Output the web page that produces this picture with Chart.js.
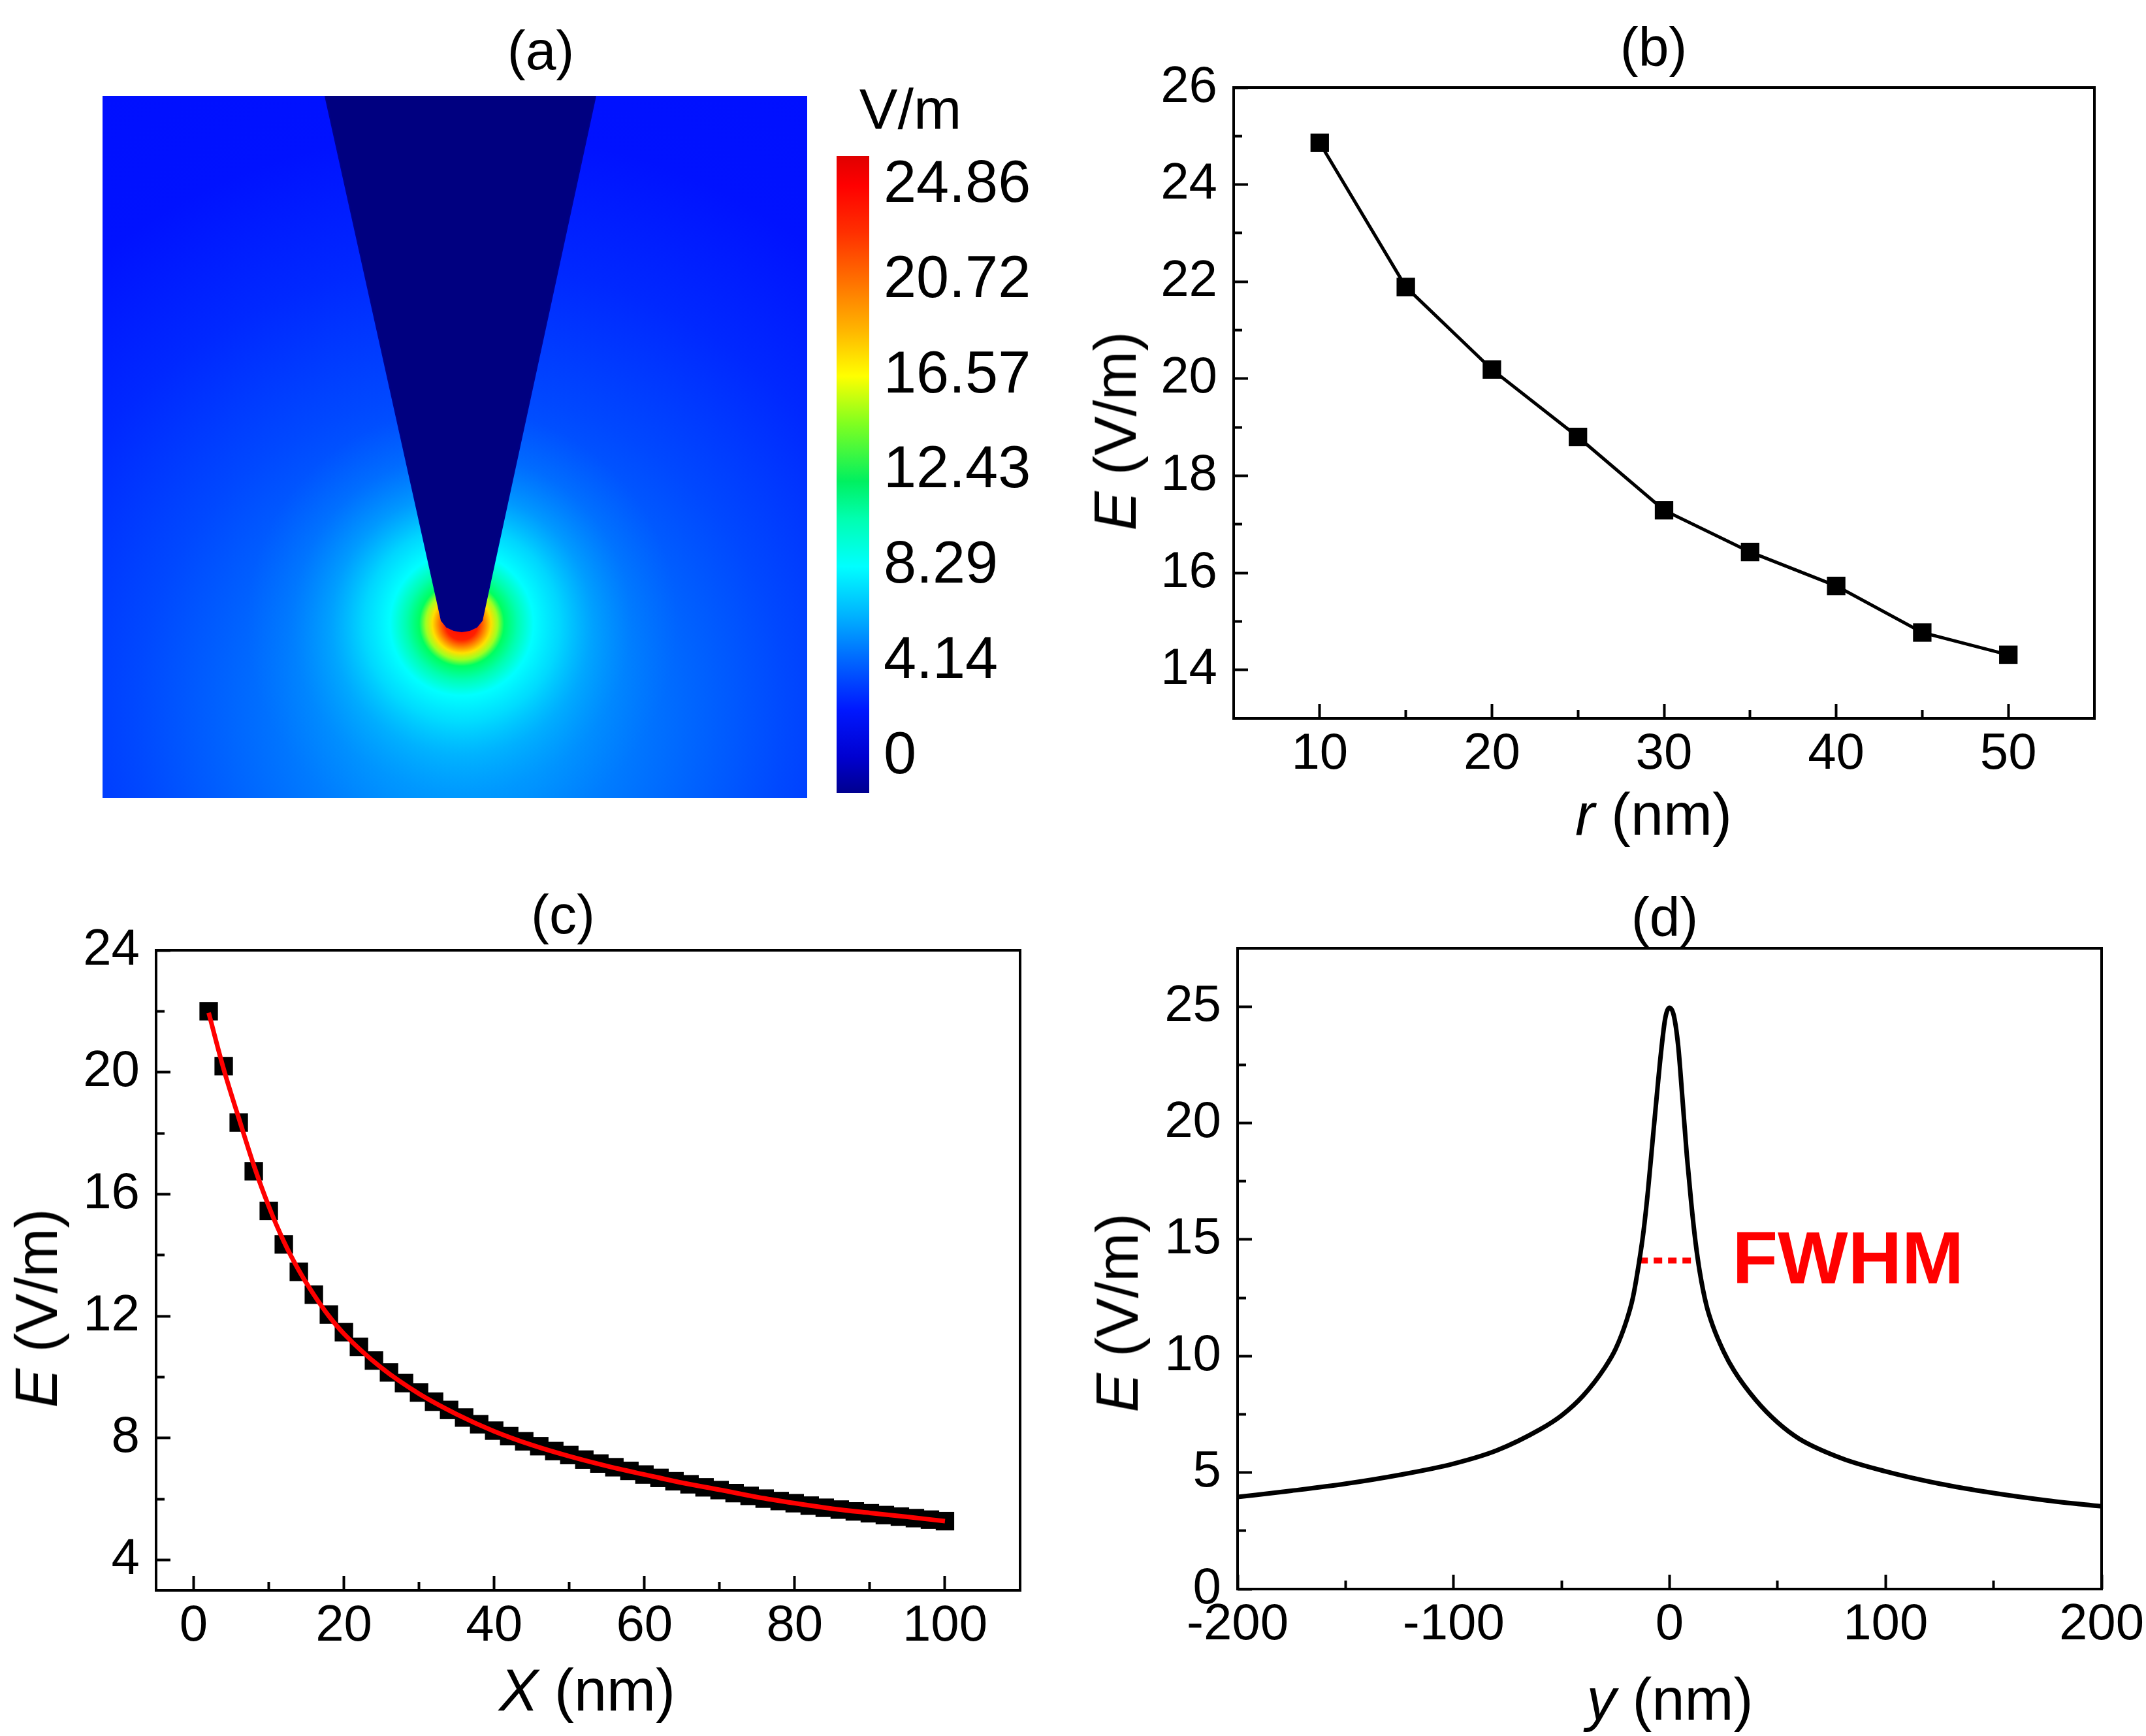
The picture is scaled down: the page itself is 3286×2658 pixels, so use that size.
<!DOCTYPE html>
<html>
<head>
<meta charset="utf-8">
<script src="https://cdn.jsdelivr.net/npm/chart.js@4.4.1/dist/chart.umd.min.js"></script>
<style>
  html, body { margin: 0; padding: 0; background: #fff; }
  body { width: 3286px; height: 2658px; position: relative; overflow: hidden;
         font-family: "Liberation Sans", Arial, sans-serif; color: #000; }
  canvas { position: absolute; }
  .lbl { position: absolute; white-space: nowrap; line-height: 1; transform: translate(-50%, -50%); }
  .vt { transform: translate(-50%, -50%) rotate(-90deg); }
</style>
</head>
<body>
<canvas id="fieldMap" width="1660" height="1329" style="left:0;top:0;width:1660px;height:1329px"></canvas>
<canvas id="colorBar" width="420" height="1100" style="left:1250px;top:200px;width:420px;height:1100px"></canvas>
<canvas id="radiusChart" width="1586" height="1329" style="left:1700px;top:0;width:1586px;height:1329px"></canvas>
<canvas id="distChart" width="1643" height="1329" style="left:0;top:1329px;width:1643px;height:1329px"></canvas>
<canvas id="lateralChart" width="1643" height="1329" style="left:1643px;top:1329px;width:1643px;height:1329px"></canvas>

<div class="lbl" style="left:828px;top:77px;font-size:84px">(a)</div>
<div class="lbl" style="left:1394px;top:167px;font-size:88px">V/m</div>
<div class="lbl" style="left:2532px;top:72px;font-size:84px">(b)</div>
<div class="lbl" style="left:862px;top:1400px;font-size:84px">(c)</div>
<div class="lbl" style="left:2549px;top:1404px;font-size:84px">(d)</div>

<div class="lbl vt" style="left:1708px;top:660px;font-size:90px"><i>E</i> (V/m)</div>
<div class="lbl" style="left:2532px;top:1247px;font-size:90px"><i>r</i> (nm)</div>
<div class="lbl vt" style="left:56px;top:2003px;font-size:90px"><i>E</i> (V/m)</div>
<div class="lbl" style="left:899px;top:2588px;font-size:90px"><i>X</i> (nm)</div>
<div class="lbl vt" style="left:1711px;top:2010px;font-size:90px"><i>E</i> (V/m)</div>
<div class="lbl" style="left:2557px;top:2602px;font-size:90px"><i>y</i> (nm)</div>

<script>
// ---- (a) field map: tip outline and hot spot (map coords 0..100) ----
const coneX = [31.6, 48.1, 48.84, 49.86, 50.97, 52.09, 53.1, 53.85, 69.97];
const coneY = [100, 25.3, 24.37, 23.91, 23.72, 23.91, 24.37, 25.3, 100];
const hotSpot = { x: 50.97, y: 24.84 };
const spread = { x: 50.97, y: 11.35 };

// colour bar
const cbRange = [-1.56, 26.14];
const cbTicks = [0, 4.14, 8.29, 12.43, 16.57, 20.72, 24.86];
const cbTickLabels = ['0', '4.14', '8.29', '12.43', '16.57', '20.72', '24.86'];
const jetStops = [
  [-1.56, '#00008f'], [0, '#0000d0'], [2.07, '#0018ff'], [4.14, '#0064ff'],
  [6.2, '#00b4ff'], [8.29, '#00ffff'], [10.36, '#00ffb0'], [12.0, '#00f060'],
  [14.5, '#80ff20'], [16.57, '#ffff00'], [18.6, '#ffb400'], [20.72, '#ff7000'],
  [22.8, '#ff3000'], [24.86, '#ff0000'], [26.14, '#e00000']
];

// ---- (b) field vs tip radius ----
const bRadius = [10, 15, 20, 25, 30, 35, 40, 45, 50];
const bField = [24.86, 21.89, 20.19, 18.8, 17.29, 16.43, 15.73, 14.77, 14.31];
const bXMajor = [10, 20, 30, 40, 50], bXMinor = [15, 25, 35, 45];
const bYMajor = [14, 16, 18, 20, 22, 24, 26], bYMinor = [15, 17, 19, 21, 23, 25];

// ---- (c) field vs distance X, with fitted curve ----
const cDist = [2, 4, 6, 8, 10, 12, 14, 16, 18, 20, 22, 24, 26, 28, 30, 32, 34, 36, 38, 40,
  42, 44, 46, 48, 50, 52, 54, 56, 58, 60, 62, 64, 66, 68, 70, 72, 74, 76, 78, 80,
  82, 84, 86, 88, 90, 92, 94, 96, 98, 100];
const cField = [22.0, 20.2, 18.35, 16.75, 15.45, 14.35, 13.45, 12.7, 12.05, 11.47, 10.99, 10.54, 10.15, 9.8, 9.49, 9.19, 8.92, 8.67, 8.45, 8.24,
  8.06, 7.89, 7.73, 7.57, 7.44, 7.29, 7.16, 7.04, 6.92, 6.8, 6.69, 6.58, 6.48, 6.38, 6.29, 6.19, 6.1, 6.01, 5.93, 5.86,
  5.78, 5.71, 5.65, 5.59, 5.53, 5.47, 5.42, 5.37, 5.32, 5.27];
const cFitX = [2, 4, 6, 8, 10, 12, 14, 16, 18, 20, 25, 30, 35, 40, 45, 50, 55, 60, 65, 70, 75, 80, 85, 90, 95, 100];
const cFitE = [21.95, 20.1, 18.5, 16.95, 15.6, 14.45, 13.5, 12.7, 12.0, 11.42, 10.3, 9.45, 8.78, 8.22, 7.77, 7.4, 7.08, 6.8, 6.53, 6.3, 6.06, 5.86, 5.68, 5.54, 5.41, 5.27];
const cXMajor = [0, 20, 40, 60, 80, 100], cXMinor = [10, 30, 50, 70, 90];
const cYMajor = [4, 8, 12, 16, 20, 24], cYMinor = [6, 10, 14, 18, 22];

// ---- (d) lateral profile ----
const dPos = [-200, -175, -150, -125, -100, -80, -60, -50, -40, -30, -25, -20, -17, -14, -12, -10, -8, -6, -4, -2, 0,
  2, 4, 6, 8, 10, 12, 14, 17, 20, 25, 30, 40, 50, 60, 80, 100, 125, 150, 175, 200];
const dField = [3.95, 4.22, 4.52, 4.9, 5.38, 5.95, 6.85, 7.45, 8.3, 9.5, 10.3, 11.5, 12.5, 14.1, 15.4, 17.1, 19.1, 21.1, 23.0, 24.5, 24.95,
  24.6, 23.3, 21.0, 18.6, 16.6, 14.9, 13.6, 12.2, 11.3, 10.2, 9.35, 8.1, 7.15, 6.45, 5.6, 5.05, 4.52, 4.12, 3.8, 3.55];
const fwhmX = [-14, 12], fwhmY = [14.1, 14.1];
const fwhmText = 'FWHM', fwhmAt = [29, 14];
const dXMajor = [-200, -100, 0, 100, 200], dXMinor = [-150, -50, 50, 150];
const dYMajor = [0, 5, 10, 15, 20, 25], dYMinor = [2.5, 7.5, 12.5, 17.5, 22.5];

Chart.defaults.font.family = '"Liberation Sans", Arial, sans-serif';
Chart.defaults.color = '#000';

const pts = (xs, ys) => xs.map((x, i) => ({ x: x, y: ys[i] }));

// box round the plot area
const frame = {
  id: 'frame',
  afterDraw(chart) {
    const { ctx, chartArea: a } = chart;
    ctx.save();
    ctx.strokeStyle = '#000';
    ctx.lineWidth = 4;
    ctx.strokeRect(a.left, a.top, a.width, a.height);
    ctx.restore();
  }
};

// inward ticks, minor ones shorter, labels only on majors
function axis(pos, min, max, major, minor, size, pad) {
  const all = major.concat(minor).sort((a, b) => a - b);
  return {
    type: 'linear', position: pos, min: min, max: max,
    afterBuildTicks: s => { s.ticks = all.map(v => ({ value: v })); },
    afterFit: s => {
      if (pos === 'bottom') s.height = size; else s.width = size;
      s.paddingLeft = s.paddingRight = s.paddingTop = s.paddingBottom = 0;
    },
    border: { display: false },
    grid: {
      drawOnChartArea: false, drawTicks: true, tickLength: -22, tickWidth: 4, tickColor: '#000',
      tickBorderDash: c => (c.tick && major.includes(c.tick.value)) ? [] : (pos === 'bottom' ? [13, 100] : [0, 9, 13, 100])
    },
    ticks: {
      autoSkip: false, maxRotation: 0, padding: pad, color: '#000', font: { size: 78 },
      callback: v => major.includes(v) ? String(v) : ''
    }
  };
}

const base = {
  responsive: false, animation: false, events: [], devicePixelRatio: 1,
  plugins: { legend: { display: false }, tooltip: { enabled: false } }
};

// ---- (a) ----
function glow(stops, radius) {
  return c => {
    const ch = c.chart;
    if (!c.parsed || !ch.chartArea) return 'rgba(0,0,0,0)';
    const px = ch.scales.x.getPixelForValue(c.parsed.x);
    const py = ch.scales.y.getPixelForValue(c.parsed.y);
    if (!isFinite(px) || !isFinite(py)) return 'rgba(0,0,0,0)';
    const g = ch.ctx.createRadialGradient(px, py, 0, px, py, radius);
    stops.forEach(s => g.addColorStop(s[0] / radius, s[1]));
    return g;
  };
}
const outerStops = [[0, '#00a8ff'], [150, '#0090ff'], [300, '#0070ff'], [500, '#0048ff'], [700, '#0028ff'], [900, '#0012ff'], [1300, '#000cff']];
const innerStops = [[0, '#ff0000'], [25, '#ff2000'], [35, '#ff8000'], [45, '#ffe000'], [55, '#a0ff20'], [65, '#00ff60'],
  [85, '#00ffb0'], [110, '#00ffff'], [150, 'rgba(0,230,255,0.85)'], [200, 'rgba(0,200,255,0.5)'],
  [260, 'rgba(0,170,255,0.2)'], [330, 'rgba(0,150,255,0)']];

new Chart(document.getElementById('fieldMap'), {
  type: 'scatter',
  data: {
    datasets: [
      { data: [spread], pointRadius: 1300, pointBorderWidth: 0, pointBackgroundColor: glow(outerStops, 1300), clip: 0, order: 2 },
      { data: [hotSpot], pointRadius: 330, pointBorderWidth: 0, pointBackgroundColor: glow(innerStops, 330), clip: 0, order: 1 },
      { data: pts(coneX, coneY), showLine: true, fill: 'end', backgroundColor: '#000080', borderColor: '#00008a',
        borderWidth: 2, pointRadius: 0, clip: 0, order: 0 }
    ]
  },
  options: Object.assign({}, base, {
    layout: { autoPadding: false, padding: { left: 157, top: 147, right: 1660 - 1236, bottom: 1329 - 1222 } },
    scales: { x: { display: false, min: 0, max: 100 }, y: { display: false, min: 0, max: 100 } }
  })
});

new Chart(document.getElementById('colorBar'), {
  type: 'bar',
  data: {
    labels: ['E'],
    datasets: [{
      data: [[cbRange[0], cbRange[1]]], borderWidth: 0, barPercentage: 1, categoryPercentage: 1,
      backgroundColor: c => {
        const ch = c.chart, ys = ch.scales.y;
        if (!ys || !ch.chartArea) return '#0000ff';
        const y0 = ys.getPixelForValue(cbRange[0]), y1 = ys.getPixelForValue(cbRange[1]);
        if (!isFinite(y0) || !isFinite(y1)) return '#0000ff';
        const g = ch.ctx.createLinearGradient(0, y0, 0, y1);
        jetStops.forEach(s => g.addColorStop((s[0] - cbRange[0]) / (cbRange[1] - cbRange[0]), s[1]));
        return g;
      }
    }]
  },
  options: Object.assign({}, base, {
    layout: { autoPadding: false, padding: { left: 31, top: 39, right: 0, bottom: 86 } },
    scales: {
      x: { display: false },
      y: {
        position: 'right', min: cbRange[0], max: cbRange[1],
        afterBuildTicks: s => { s.ticks = cbTicks.map(v => ({ value: v })); },
        afterFit: s => { s.width = 420 - 31 - 50; s.paddingTop = s.paddingBottom = 0; },
        grid: { display: false }, border: { display: false },
        ticks: { padding: 14, font: { size: 90 }, color: '#000', callback: (v, i) => cbTickLabels[i] }
      }
    }
  })
});

// ---- (b) ----
new Chart(document.getElementById('radiusChart'), {
  type: 'scatter',
  data: {
    datasets: [{
      data: pts(bRadius, bField), showLine: true, borderColor: '#000', borderWidth: 5,
      pointStyle: 'rect', pointRadius: 20, pointBackgroundColor: '#000', pointBorderWidth: 0
    }]
  },
  options: Object.assign({}, base, {
    layout: { autoPadding: false, padding: { left: 0, top: 134, right: 79, bottom: 0 } },
    scales: {
      x: axis('bottom', 5, 55, bXMajor, bXMinor, 1329 - 1100, 31),
      y: axis('left', 13, 26, bYMajor, bYMinor, 189, 47)
    }
  }),
  plugins: [frame]
});

// ---- (c) ----
new Chart(document.getElementById('distChart'), {
  type: 'scatter',
  data: {
    datasets: [
      { data: pts(cFitX, cFitE), showLine: true, borderColor: '#ff0000', borderWidth: 7, pointRadius: 0,
        cubicInterpolationMode: 'monotone', order: 0 },
      { data: pts(cDist, cField), pointStyle: 'rect', pointRadius: 20, pointBackgroundColor: '#000',
        pointBorderWidth: 0, order: 1 }
    ]
  },
  options: Object.assign({}, base, {
    layout: { autoPadding: false, padding: { left: 0, top: 126, right: 81, bottom: 0 } },
    scales: {
      x: axis('bottom', -5, 110, cXMajor, cXMinor, 1329 - 1106, 31),
      y: axis('left', 3, 24, cYMajor, cYMinor, 239, 47)
    }
  }),
  plugins: [frame]
});

// ---- (d) ----
const fwhmLabel = {
  id: 'fwhmLabel',
  afterDatasetsDraw(chart) {
    const { ctx, scales } = chart;
    ctx.save();
    ctx.fillStyle = '#ff0000';
    ctx.font = 'bold 114px "Liberation Sans", Arial, sans-serif';
    ctx.textAlign = 'left';
    ctx.textBaseline = 'middle';
    ctx.fillText(fwhmText, scales.x.getPixelForValue(fwhmAt[0]), scales.y.getPixelForValue(fwhmAt[1]));
    ctx.restore();
  }
};

new Chart(document.getElementById('lateralChart'), {
  type: 'scatter',
  data: {
    datasets: [
      { data: pts(dPos, dField), showLine: true, borderColor: '#000', borderWidth: 7, pointRadius: 0,
        cubicInterpolationMode: 'monotone' },
      { data: pts(fwhmX, fwhmY), showLine: true, borderColor: '#ff0000', borderWidth: 9, borderDash: [13, 9],
        pointRadius: 0 }
    ]
  },
  options: Object.assign({}, base, {
    layout: { autoPadding: false, padding: { left: 0, top: 123, right: 68, bottom: 0 } },
    scales: {
      x: axis('bottom', -200, 200, dXMajor, dXMinor, 1329 - 1104, 31),
      y: axis('left', 0, 27.5, dYMajor, dYMinor, 252, 47)
    }
  }),
  plugins: [frame, fwhmLabel]
});
</script>
</body>
</html>
